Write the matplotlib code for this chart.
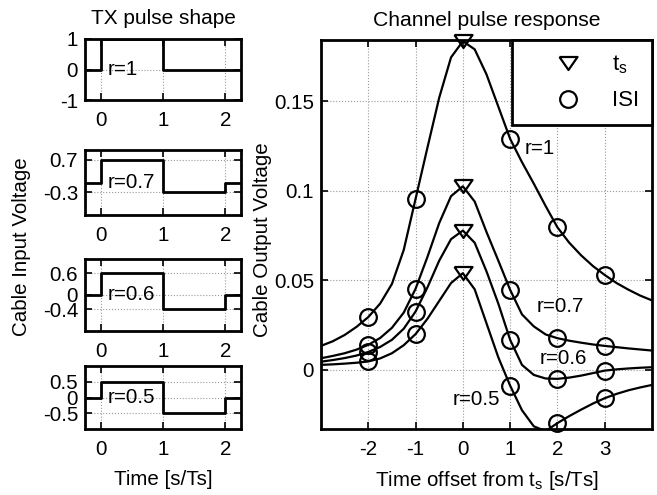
import numpy as np
import matplotlib
matplotlib.use('Agg')
import matplotlib.pyplot as plt
from matplotlib.lines import Line2D

plt.rcParams['font.family'] = ['Liberation Sans', 'DejaVu Sans']
plt.rcParams['font.size'] = 14.8
plt.rcParams['axes.unicode_minus'] = False
plt.rcParams['mathtext.fontset'] = 'custom'
plt.rcParams['mathtext.rm'] = 'Liberation Sans'
plt.rcParams['mathtext.it'] = 'Liberation Sans:italic'

# TX pulse shapes (step levels)
ratios = ['1', '0.7', '0.6', '0.5']
tx_t = [-0.25, 0, 1, 2, 2.25]
tx_r1 = [0, 1, 0, 0, 0]
tx_r07 = [0, 0.7, -0.3, 0, 0]
tx_r06 = [0, 0.6, -0.4, 0, 0]
tx_r05 = [0, 0.5, -0.5, 0, 0]
tx_yticks = [[-1, 0, 1], [-0.3, 0.7], [-0.4, 0, 0.6], [-0.5, 0, 0.5]]

t_ch = np.arange(-3, 4.01, 0.25)
ch_r1 = [0.0134, 0.016, 0.0195, 0.024, 0.0295, 0.037, 0.048, 0.067, 0.0955,
         0.124, 0.152, 0.1745, 0.1835, 0.179, 0.165, 0.147, 0.129, 0.116,
         0.104, 0.0915, 0.0796, 0.071, 0.064, 0.058, 0.053, 0.0485, 0.0448,
         0.0415, 0.0388]
ch_r07 = [0.0065, 0.0078, 0.0093, 0.0113, 0.014, 0.0178, 0.0235, 0.032,
          0.0453, 0.063, 0.082, 0.097, 0.1025, 0.094, 0.077, 0.061, 0.0447,
          0.031, 0.0243, 0.0198, 0.0177, 0.0163, 0.0152, 0.0142, 0.0134,
          0.0127, 0.012, 0.0114, 0.0108]
ch_r06 = [0.0046, 0.0055, 0.0066, 0.008, 0.01, 0.0128, 0.0168, 0.023,
          0.0326, 0.046, 0.061, 0.073, 0.0778, 0.071, 0.055, 0.037, 0.0168,
          0.0028, -0.0028, -0.0048, -0.005, -0.0043, -0.0032, -0.0018,
          -0.0004, 0.0003, 0.0008, 0.0012, 0.0015]
ch_r05 = [0.0028, 0.0031, 0.0035, 0.004, 0.0047, 0.0064, 0.0093, 0.0138,
          0.02, 0.0285, 0.0385, 0.0485, 0.054, 0.045, 0.026, 0.007, -0.0088,
          -0.0225, -0.0315, -0.0342, -0.0297, -0.0258, -0.0222, -0.0188,
          -0.0158, -0.0134, -0.0114, -0.0098, -0.0084]
ts_offset = 0
isi_offsets = [-2, -1, 1, 2, 3]

tri = [(-1, 0.72), (1, 0.72), (0, -0.72), (-1, 0.72)]

fig = plt.figure(figsize=(6.57, 4.95), dpi=100)


def style(ax):
    ax.grid(True, ls=':', color='0.6', lw=0.8)
    ax.set_axisbelow(True)
    ax.tick_params(direction='in', top=True, right=True, length=5, width=1.2)
    ax.tick_params(axis='x', pad=8)
    ax.tick_params(axis='y', pad=5)
    for s in ax.spines.values():
        s.set_linewidth(2)


# left column
left_pos = [(39, 100), (150, 215), (259, 331), (366, 429)]
tx_levels = [tx_r1, tx_r07, tx_r06, tx_r05]
for i, (top, bot) in enumerate(left_pos):
    ax = fig.add_axes([85 / 657, 1 - bot / 495, 156 / 657, (bot - top) / 495])
    ax.step(tx_t, tx_levels[i], where='post', color='k', lw=2)
    ax.set_xlim(-0.25, 2.25)
    ax.set_ylim(-1, 1)
    ax.set_xticks([0, 1, 2])
    ax.set_yticks(tx_yticks[i])
    ax.set_yticklabels([('%g' % v) for v in tx_yticks[i]])
    ax.text(0.12, 0, 'r=' + ratios[i], va='center', ha='left')
    style(ax)
    if i == 0:
        ax.set_title('TX pulse shape', pad=11, fontsize=15)
    if i == 3:
        ax.set_xlabel('Time [s/Ts]', labelpad=8)

fig.text(0.033, 0.502, 'Cable Input Voltage', rotation=90, ha='center', va='center')

# right panel
ax = fig.add_axes([321 / 657, 1 - 429 / 495, 331 / 657, 389 / 495])
t_list = list(t_ch)
i_ts = t_list.index(ts_offset)
i_isi = [t_list.index(k) for k in isi_offsets]
for y in [ch_r1, ch_r07, ch_r06, ch_r05]:
    y = np.array(y)
    ax.plot(t_ch, y, color='k', lw=1.6)
    ax.plot([ts_offset], [y[i_ts]], ls='none', marker=tri, ms=13, mfc='none',
            mec='k', mew=1.6, clip_on=False)
    ax.plot(isi_offsets, y[i_isi], ls='none', marker='o', ms=12, mfc='none',
            mec='k', mew=1.6, clip_on=False)
ax.set_xlim(-3, 4)
ax.set_ylim(-0.033, 0.1842)
ax.set_xticks([-2, -1, 0, 1, 2, 3])
ax.set_yticks([0, 0.05, 0.1, 0.15])
ax.set_yticklabels(['0', '0.05', '0.1', '0.15'])
style(ax)
ax.set_title('Channel pulse response', pad=10, fontsize=15.2)
ax.set_xlabel('Time offset from $\\mathregular{t_s}$ [s/Ts]', labelpad=7)
fig.text(263 / 657, 1 - 240 / 495, 'Cable Output Voltage', rotation=90,
         ha='center', va='center')

ax.text(1.30, 0.1234, 'r=1', va='center')
ax.text(1.55, 0.0354, 'r=0.7', va='center')
ax.text(1.62, 0.0065, 'r=0.6', va='center')
ax.text(-0.21, -0.0168, 'r=0.5', va='center')

handles = [
    Line2D([], [], ls='none', marker=tri, ms=13, mfc='none', mec='k', mew=1.6,
           label='$\\mathregular{t_s}$'),
    Line2D([], [], ls='none', marker='o', ms=12, mfc='none', mec='k', mew=1.6,
           label='ISI'),
]
leg = ax.legend(handles=handles, loc='upper right', bbox_to_anchor=(1, 1),
                borderaxespad=0, fancybox=False, framealpha=1, edgecolor='k',
                fontsize=16, borderpad=0.6, handlelength=3.9, handletextpad=0.0,
                labelspacing=0.65)
leg.get_frame().set_linewidth(2)

fig.savefig('out.png', dpi=100)
